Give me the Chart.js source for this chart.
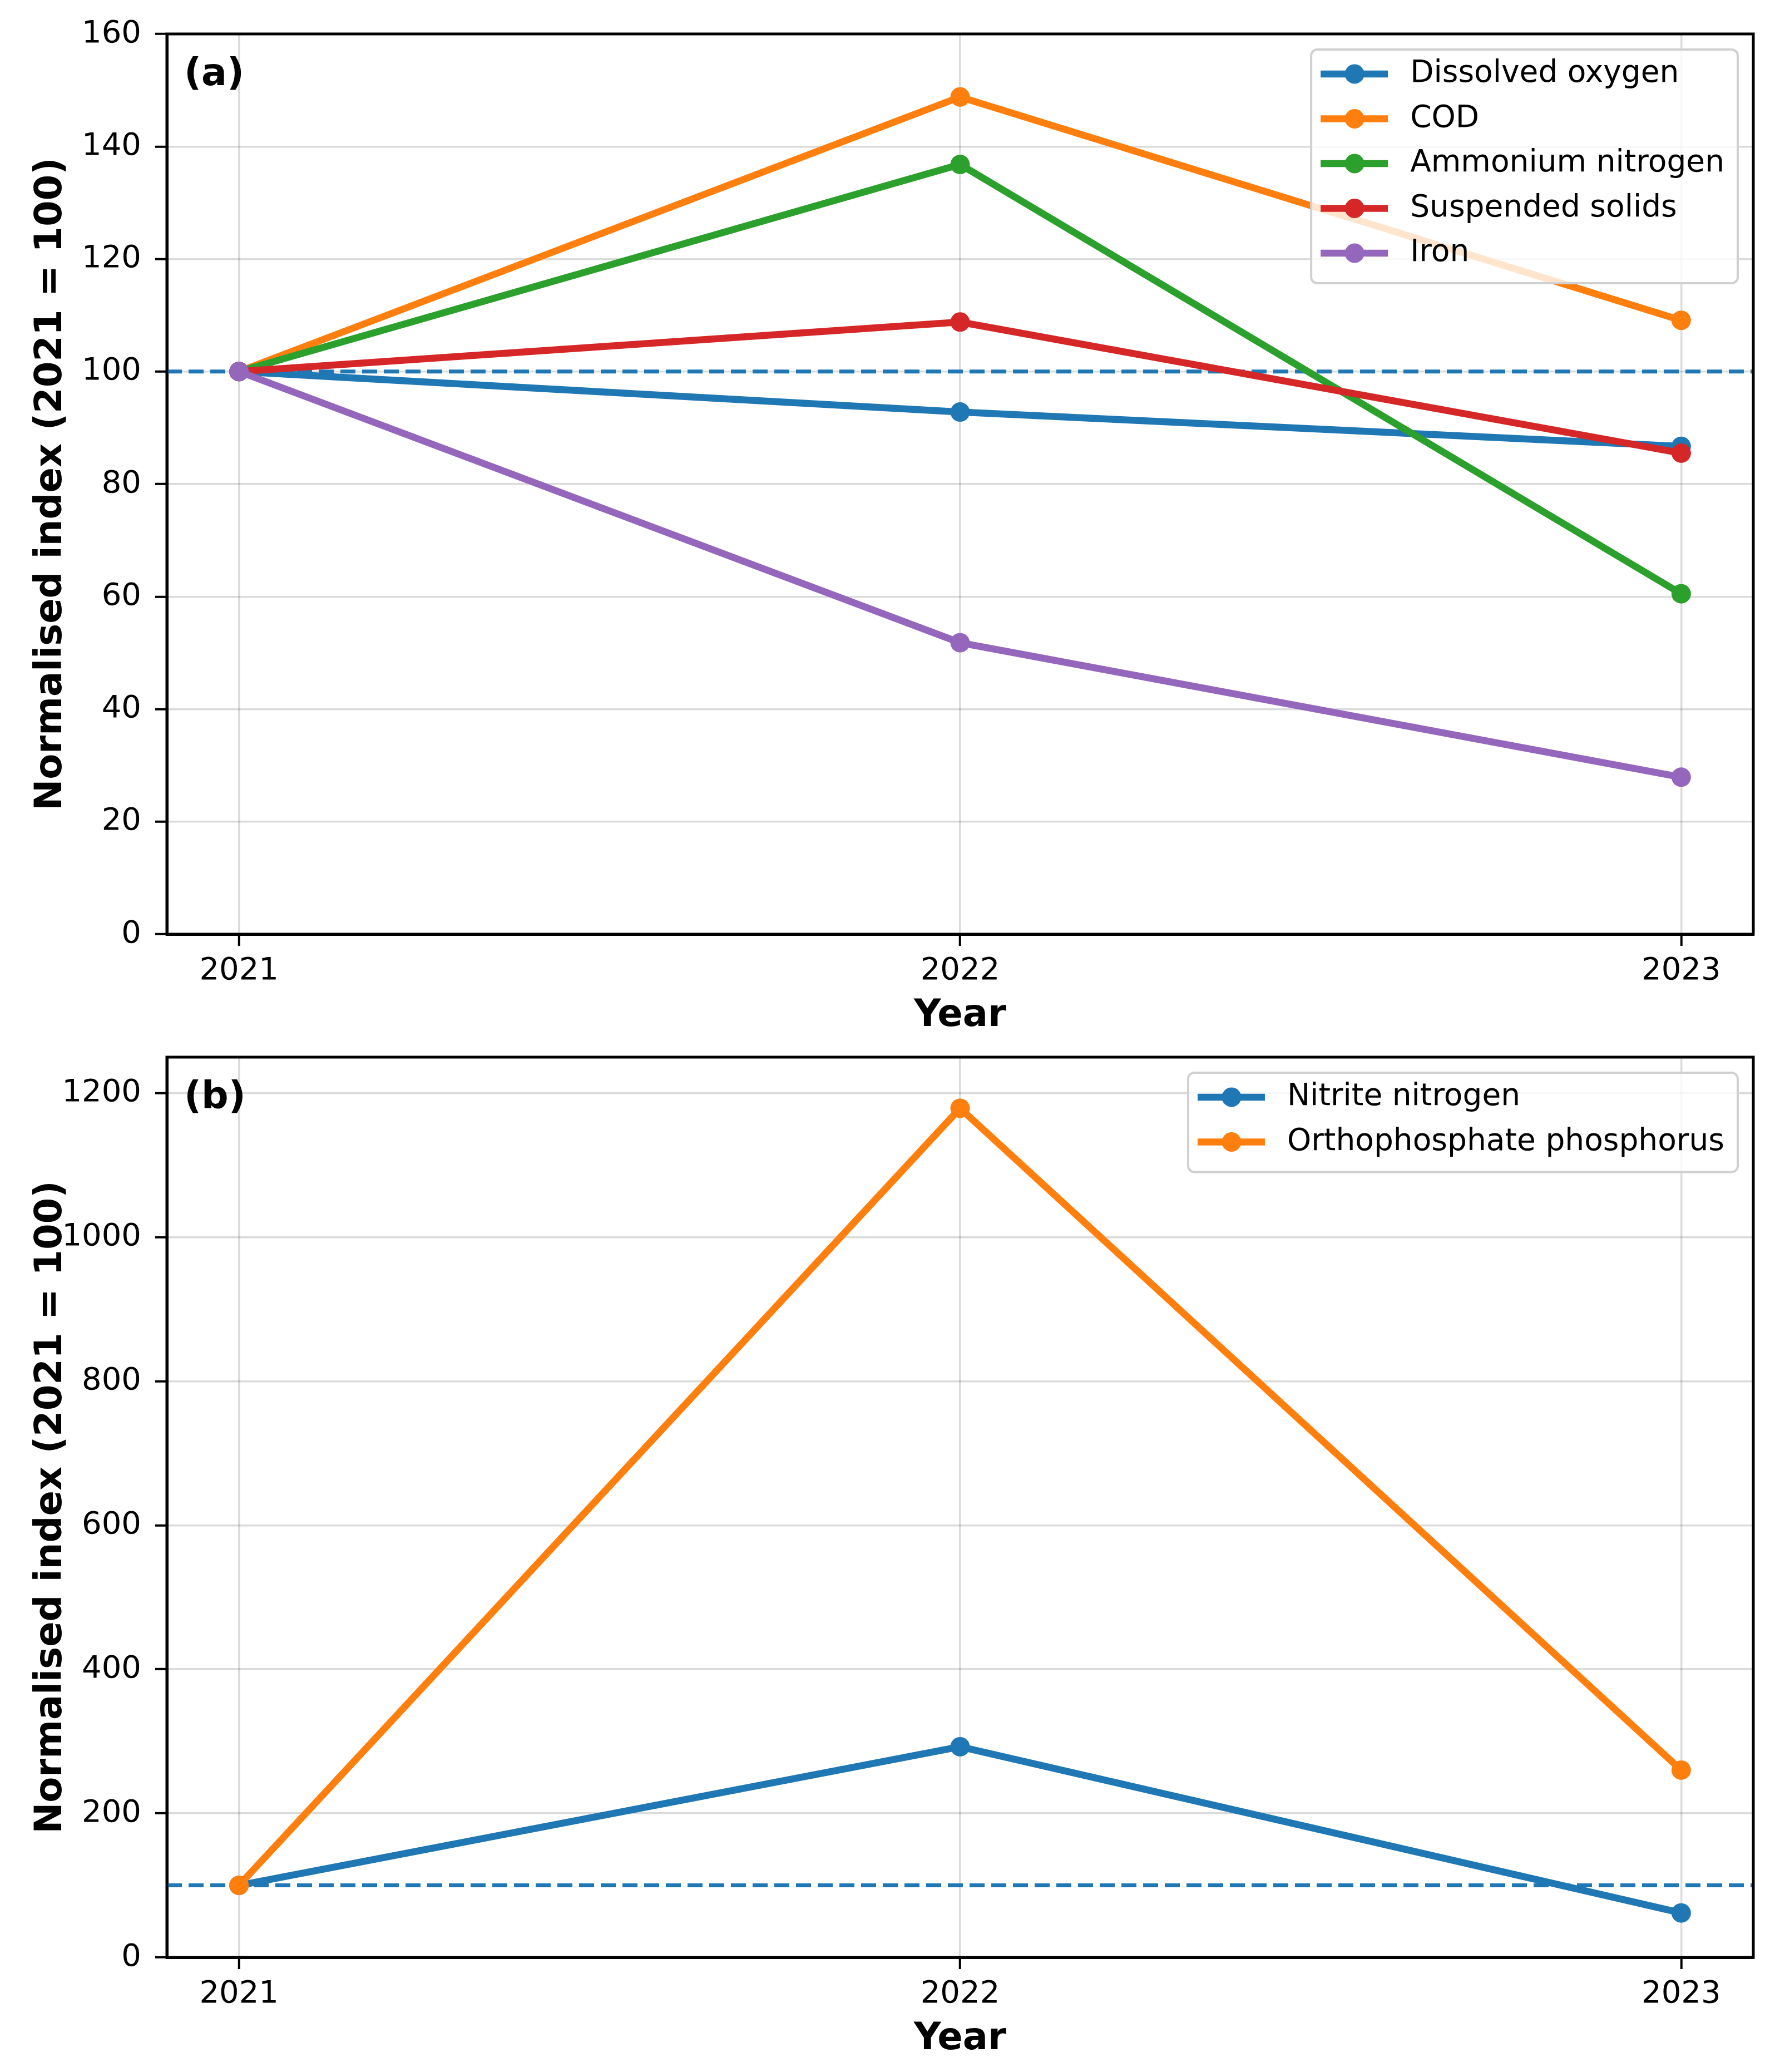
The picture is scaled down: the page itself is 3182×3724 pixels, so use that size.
<!DOCTYPE html>
<html><head><meta charset="utf-8">
<script src="https://cdn.jsdelivr.net/npm/chart.js@4.4.0/dist/chart.umd.min.js"></script>
<style>
html,body{margin:0;padding:0;background:#fff;}
body{width:3182px;height:3724px;position:relative;overflow:hidden;}
canvas{position:absolute;left:0;}
</style></head><body>
<canvas id="ca" width="3182" height="1880" style="top:0;width:3182px;height:1880px"></canvas>
<canvas id="cb" width="3182" height="1859" style="top:1860px;width:3182px;height:1859px"></canvas>
<script>
// ---- data ----
const years = [2021, 2022, 2023];
const xTickLabels = ['2021', '2022', '2023'];
const baseline = 100;

const labelsA = ['Dissolved oxygen', 'COD', 'Ammonium nitrogen', 'Suspended solids', 'Iron'];
const dissolvedOxygen = [100, 92.8, 86.7];
const cod = [100, 148.8, 109.1];
const ammoniumNitrogen = [100, 136.8, 60.5];
const suspendedSolids = [100, 108.8, 85.5];
const iron = [100, 51.8, 27.9];
const yTicksA = [0, 20, 40, 60, 80, 100, 120, 140, 160];

const labelsB = ['Nitrite nitrogen', 'Orthophosphate phosphorus'];
const nitriteNitrogen = [100, 292.5, 61.7];
const orthophosphatePhosphorus = [100, 1179, 260];
const yTicksB = [0, 200, 400, 600, 800, 1000, 1200];

const palette = ['#1f77b4', '#ff7f0e', '#2ca02c', '#d62728', '#9467bd'];
const FONT = '"DejaVu Sans"';
Chart.defaults.font.family = FONT;
Chart.defaults.color = '#000';

function roundRect(ctx, x, y, w, h, r) {
  ctx.beginPath();
  ctx.moveTo(x + r, y);
  ctx.lineTo(x + w - r, y); ctx.arcTo(x + w, y, x + w, y + r, r);
  ctx.lineTo(x + w, y + h - r); ctx.arcTo(x + w, y + h, x + w - r, y + h, r);
  ctx.lineTo(x + r, y + h); ctx.arcTo(x, y + h, x, y + h - r, r);
  ctx.lineTo(x, y + r); ctx.arcTo(x, y, x + r, y, r);
  ctx.closePath();
}

const framePlugin = {
  id: 'panel',
  beforeDatasetsDraw(chart) {
    const {ctx, chartArea: a, scales: {y}} = chart;
    const py = y.getPixelForValue(baseline);
    ctx.save();
    ctx.strokeStyle = '#1f77b4';
    ctx.lineWidth = 7;
    ctx.setLineDash([27, 12]);
    ctx.beginPath(); ctx.moveTo(a.left, py); ctx.lineTo(a.right, py); ctx.stroke();
    ctx.restore();
  },
  afterDatasetsDraw(chart, args, opts) {
    const {ctx, chartArea: a} = chart;
    const ds = chart.data.datasets;
    ctx.save();
    // legend
    ctx.font = '55px ' + FONT;
    const maxW = Math.max(...ds.map(d => ctx.measureText(d.label).width));
    const right = a.right - 28, top = a.top + 28;
    const left = right - (178 + maxW + 24);
    const rowH = 80.5;
    const h = 44 + (ds.length - 1) * rowH + 54;
    roundRect(ctx, left, top, right - left, h, 11);
    ctx.fillStyle = 'rgba(255,255,255,0.8)';
    ctx.fill();
    ctx.strokeStyle = '#d0d0d0';
    ctx.lineWidth = 4;
    ctx.stroke();
    ds.forEach((d, i) => {
      const cy = top + 44 + i * rowH;
      ctx.strokeStyle = d.borderColor;
      ctx.lineWidth = 12.5;
      ctx.beginPath(); ctx.moveTo(left + 17, cy); ctx.lineTo(left + 138, cy); ctx.stroke();
      ctx.fillStyle = d.borderColor;
      ctx.beginPath(); ctx.arc(left + 78, cy, 17.5, 0, Math.PI * 2); ctx.fill();
      ctx.fillStyle = '#000';
      ctx.textBaseline = 'middle';
      ctx.textAlign = 'left';
      ctx.fillText(d.label, left + 178, cy);
    });
    // spines
    ctx.strokeStyle = '#000';
    ctx.lineWidth = 5;
    ctx.strokeRect(a.left, a.top, a.right - a.left, a.bottom - a.top);
    // panel label
    ctx.font = 'bold 68px ' + FONT;
    ctx.fillStyle = '#000';
    ctx.textBaseline = 'alphabetic';
    ctx.textAlign = 'left';
    ctx.fillText(opts.label, a.left + 31, a.top + 92);
    ctx.restore();
  }
};

function makeChart(id, names, series, yMax, yTicks, panelLabel, padTop) {
  return new Chart(document.getElementById(id), {
    type: 'line',
    data: {
      datasets: series.map((s, i) => ({
        label: names[i],
        data: years.map((yr, j) => ({x: yr, y: s[j]})),
        borderColor: palette[i],
        backgroundColor: palette[i],
        pointBackgroundColor: palette[i],
        borderWidth: 12.5,
        pointRadius: 17.5,
        pointHoverRadius: 17.5,
        pointBorderWidth: 0,
        tension: 0,
        order: series.length - i
      }))
    },
    options: {
      responsive: false,
      animation: false,
      devicePixelRatio: 1,
      events: [],
      layout: {padding: {top: padTop, right: 30, left: 0, bottom: 0}},
      plugins: {legend: {display: false}, tooltip: {enabled: false}, panel: {label: panelLabel}},
      scales: {
        x: {
          type: 'linear', min: 2020.9, max: 2023.1,
          afterBuildTicks: s => { s.ticks = years.map(v => ({value: v})); },
          afterFit: s => { s.height = 201; s.paddingLeft = 0; s.paddingRight = 0; },
          ticks: {callback: (v, idx) => xTickLabels[idx], font: {size: 56}, color: '#000', padding: 12, maxRotation: 0, autoSkip: false},
          grid: {color: 'rgba(0,0,0,0.14)', lineWidth: 3.5, tickLength: 21, tickColor: '#000', tickWidth: 4},
          border: {display: true, color: '#000', width: 5},
          title: {display: true, text: 'Year', font: {size: 67, weight: 'bold'}, color: '#000', padding: {top: 0, bottom: 13}}
        },
        y: {
          type: 'linear', min: 0, max: yMax,
          afterBuildTicks: s => { s.ticks = yTicks.map(v => ({value: v})); },
          afterFit: s => { s.width = 300; s.paddingTop = 0; s.paddingBottom = 0; },
          ticks: {callback: v => String(v), font: {size: 56}, color: '#000', padding: 25},
          grid: {color: 'rgba(0,0,0,0.14)', lineWidth: 3.5, tickLength: 21, tickColor: '#000', tickWidth: 4},
          border: {display: true, color: '#000', width: 5},
          title: {display: true, text: 'Normalised index (2021 = 100)', font: {size: 67, weight: 'bold'}, color: '#000', padding: {top: 52, bottom: 0}}
        }
      }
    },
    plugins: [framePlugin]
  });
}

makeChart('ca', labelsA, [dissolvedOxygen, cod, ammoniumNitrogen, suspendedSolids, iron], 160, yTicksA, '(a)', 61);
makeChart('cb', labelsB, [nitriteNitrogen, orthophosphatePhosphorus], 1250, yTicksB, '(b)', 40);
</script>
</body></html>
